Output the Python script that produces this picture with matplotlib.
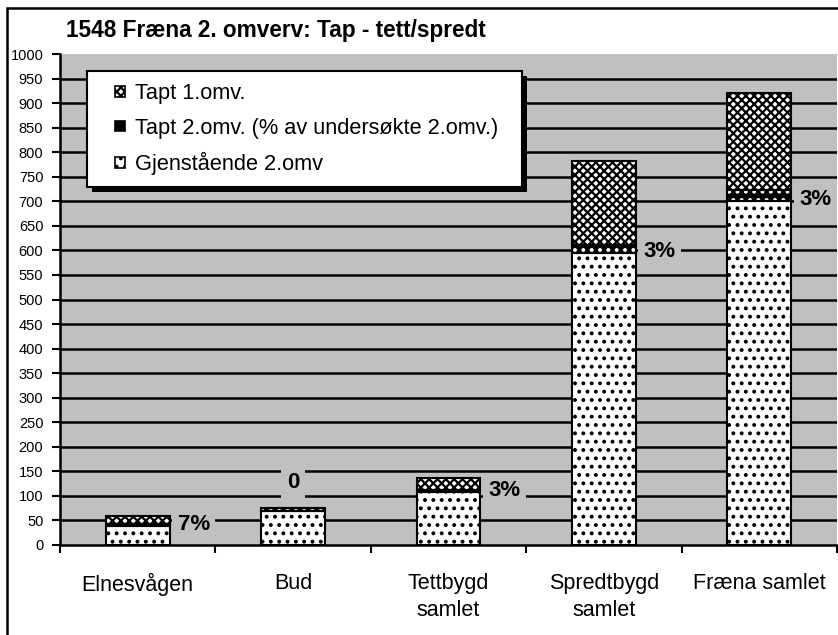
import matplotlib
matplotlib.use("Agg")
import matplotlib.pyplot as plt
from matplotlib.patches import Patch, Rectangle
from matplotlib.legend_handler import HandlerPatch
import numpy as np

plt.rcParams["font.family"] = ["Liberation Sans", "DejaVu Sans"]
plt.rcParams["hatch.linewidth"] = 1.6

categories = ["Elnesvågen", "Bud", "Tettbygd\nsamlet", "Spredtbygd\nsamlet", "Fræna samlet"]
gjenstaende = [39, 69, 108, 594, 701]
tapt2 = [3, 0, 4, 17, 21]
tapt1 = [17, 7, 25, 172, 198]
pct_labels = ["7%", "0", "3%", "3%", "3%"]

GRAY = "#c0c0c0"
W, H = 838, 635
fig = plt.figure(figsize=(W / 100, H / 100), dpi=100)
ax = fig.add_axes([60 / W, 1 - 545 / H, 777 / W, 491 / H])
ax.set_facecolor(GRAY)

x = np.arange(len(categories))
bw = 0.41
g = np.array(gjenstaende)
t2 = np.array(tapt2)
t1 = np.array(tapt1)

# bottom: white with black dots
ax.bar(x, g, bw, color="white", edgecolor="black", hatch="..", linewidth=0, zorder=3)
# middle: black with white dots
ax.bar(x, t2, bw, bottom=g, color="black", edgecolor="white", hatch="..", linewidth=0, zorder=3)
# top: checkered
ax.bar(x, t1, bw, bottom=g + t2, color="white", edgecolor="black", hatch="xxxx", linewidth=0, zorder=3)
# outlines
for bottom, h in [(0, g), (g, t2), (g + t2, t1)]:
    ax.bar(x, h, bw, bottom=bottom, fill=False, edgecolor="black", linewidth=1.5, zorder=4)

# data labels for Tapt 2.omv.
for i, lab in enumerate(pct_labels):
    if t2[i] == 0:
        xx, yy = x[i], g[i] + t2[i] + t1[i] + 52
    else:
        xx, yy = x[i] + bw / 2 + 0.155, g[i] + 3
    ax.text(xx, yy, lab, ha="center", va="center", fontsize=16, fontweight="bold",
            zorder=5, bbox=dict(facecolor=GRAY, edgecolor="none", pad=4))

ax.set_xlim(-0.5, len(categories) - 0.5)
ax.set_ylim(0, 1000)
ax.set_yticks(np.arange(0, 1001, 50))
ax.tick_params(axis="y", labelsize=10.5, length=6, width=1.5, direction="out", pad=6)
ax.set_xticks(x)
ax.set_xticklabels(categories, fontsize=15.5, linespacing=1.4)
ax.set_xticks(np.arange(-0.5, len(categories)), minor=True)
ax.tick_params(axis="x", which="major", length=0, pad=20)
ax.tick_params(axis="x", which="minor", length=6, width=1.5, direction="out")

ax.set_axisbelow(True)
ax.yaxis.grid(True, color="black", linewidth=1.8)
ax.get_ygridlines()[0].set_visible(False)
ax.get_ygridlines()[-1].set_visible(False)
for s in ["top", "right"]:
    ax.spines[s].set_visible(False)
for s in ["left", "bottom"]:
    ax.spines[s].set_linewidth(1.8)


def small_square(legend, orig_handle, xdescent, ydescent, width, height, fontsize):
    s = 7.5
    return Rectangle((width - s - xdescent, (height - s) / 2 - ydescent), s, s)


handles = [
    Patch(facecolor="white", edgecolor="black", hatch="xxxx", linewidth=1.2),
    Patch(facecolor="black", edgecolor="black", linewidth=1.2),
    Patch(facecolor="white", edgecolor="black", hatch="..", linewidth=1.2),
]
labels = ["Tapt 1.omv.", "Tapt 2.omv. (% av undersøkte 2.omv.)", "Gjenstående 2.omv"]
leg = ax.legend(handles, labels, loc="upper left",
                bbox_to_anchor=(27 / 777, 474 / 491 - 112 / 491, 435 / 777, 112 / 491),
                mode="expand", borderaxespad=0, fontsize=15.7, frameon=True, fancybox=False,
                framealpha=1, edgecolor="black", handlelength=1.2, handleheight=0.7,
                handletextpad=0.45, labelspacing=0.62, borderpad=0.55,
                handler_map={Patch: HandlerPatch(patch_func=small_square)})
leg.get_frame().set_linewidth(1.5)
leg.set_zorder(10)

# legend shadow
fig.canvas.draw()
bb = leg.get_window_extent()
shadow = Rectangle((bb.x0 + 5, bb.y0 - 5), bb.width, bb.height, transform=None,
                   facecolor="black", edgecolor="none", zorder=9)
ax.add_artist(shadow)

# outer chart border
fig.patches.append(Rectangle((7 / W, -0.1), 2, 1.1 - 8 / H, transform=fig.transFigure,
                             fill=False, edgecolor="black", linewidth=1.8))

fig.text(66 / W, 1 - 31 / H, "1548 Fræna 2. omverv: Tap - tett/spredt",
         fontsize=16.3, fontweight="bold", ha="left", va="center")

fig.savefig("out.png", dpi=100)
